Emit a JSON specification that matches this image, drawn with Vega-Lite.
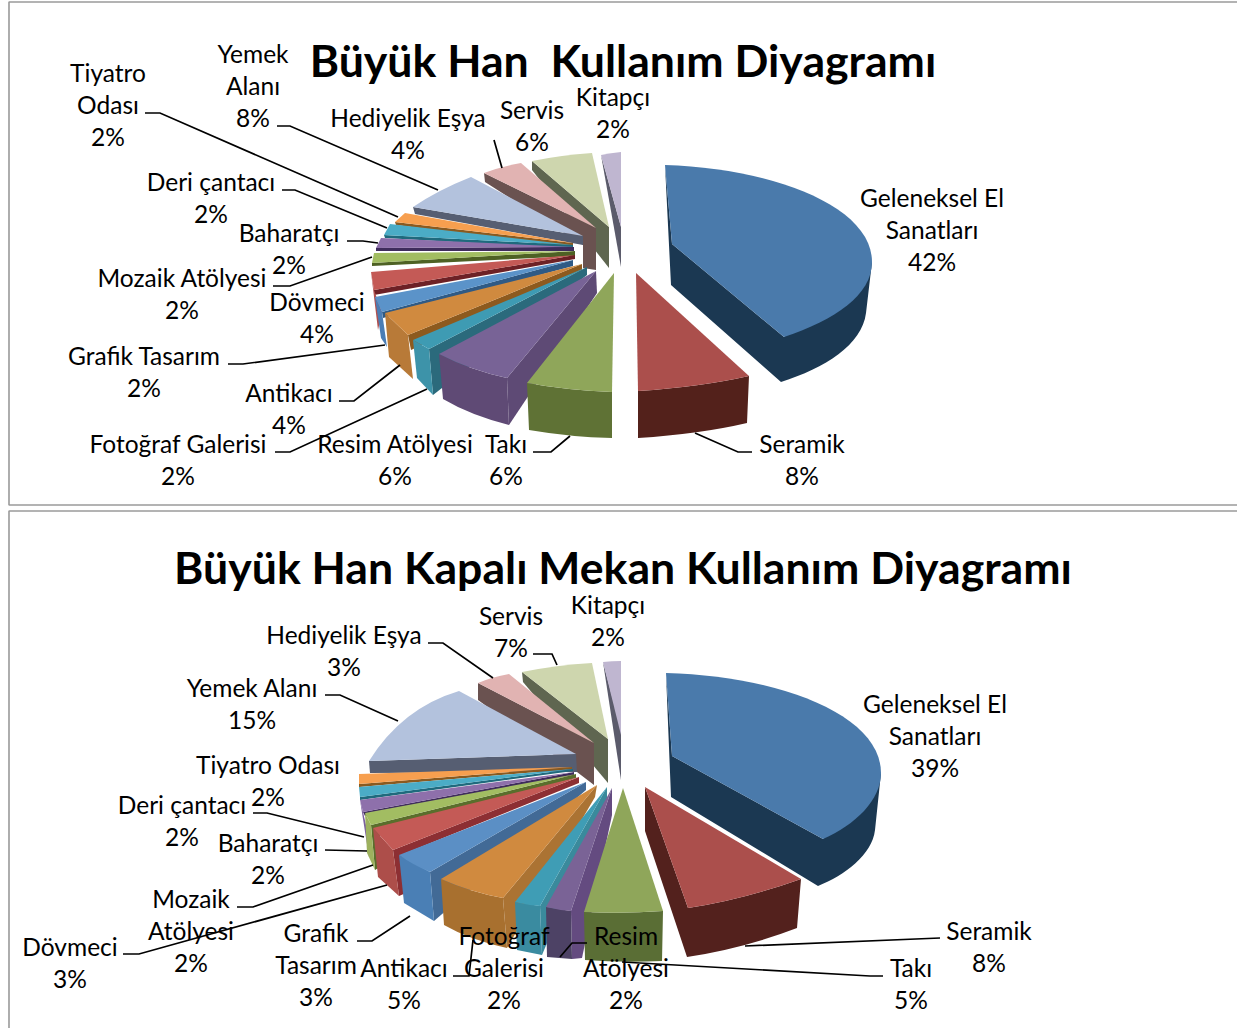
{"$schema":"https://vega.github.io/schema/vega-lite/v6.json","padding":0,"spacing":0,"bounds":"flush","background":"white","config":{"view":{"stroke":null},"title":{"font":"Lato","fontWeight":"bold","color":"#000000","anchor":"middle","baseline":"alphabetic"},"text":{"font":"Lato","fontSize":24.5,"lineBreak":"\n","lineHeight":32,"align":"center","baseline":"middle","color":"#000000"}},
"vconcat":[
{"width":1236,"height":514,"title":{"text":"Büyük Han \u00a0Kullanım Diyagramı","fontSize":44.6,"offset":-87,"dx":5},
"data":{"values":[
{"category":"Kitapçı","pct":2,"label":"Kitapçı\n2%"},{"category":"Servis","pct":6,"label":"Servis\n6%"},{"category":"Hediyelik Eşya","pct":4,"label":"Hediyelik Eşya\n4%"},{"category":"Yemek Alanı","pct":8,"label":"Yemek\nAlanı\n8%"},{"category":"Tiyatro Odası","pct":2,"label":"Tiyatro\nOdası\n2%"},{"category":"Deri çantacı","pct":2,"label":"Deri çantacı\n2%"},{"category":"Baharatçı","pct":2,"label":"Baharatçı\n2%"},{"category":"Mozaik Atölyesi","pct":2,"label":"Mozaik Atölyesi\n2%"},{"category":"Dövmeci","pct":4,"label":"Dövmeci\n4%"},{"category":"Grafik Tasarım","pct":2,"label":"Grafik Tasarım\n2%"},{"category":"Antikacı","pct":4,"label":"Antikacı\n4%"},{"category":"Fotoğraf Galerisi","pct":2,"label":"Fotoğraf Galerisi\n2%"},{"category":"Resim Atölyesi","pct":6,"label":"Resim Atölyesi\n6%"},{"category":"Takı","pct":6,"label":"Takı\n6%"},{"category":"Seramik","pct":8,"label":"Seramik\n8%"},{"category":"Geleneksel El Sanatları","pct":42,"label":"Geleneksel El\nSanatları\n42%"}]},
"resolve":{"scale":{"shape":"independent","color":"independent"}},
"layer":[
{"data":{"values":[{"panel":"frame"}]},"mark":{"type":"point","shape":"M619,-255 L-609,-255 L-609,248 L619,248","size":4,"filled":false,"stroke":"#9a9a9a","strokeWidth":1.6,"strokeJoin":"bevel","opacity":1},"encoding":{}},
{"mark":{"type":"point","filled":true,"size":4,"opacity":1},"encoding":{
"shape":{"field":"category","type":"nominal","legend":null,"scale":{"domain":["Kitapçı","Servis","Hediyelik Eşya","Yemek Alanı","Tiyatro Odası","Deri çantacı","Baharatçı","Mozaik Atölyesi","Dövmeci","Grafik Tasarım","Antikacı","Fotoğraf Galerisi","Resim Atölyesi","Takı","Seramik","Geleneksel El Sanatları"],"range":["M-17,-102 L3,-30 L3,10 Z","M-86,-96 L-86,-87 L-9,11 L-9,-30 Z","M-134,-84 L-133,-75 L-35,-12 L-35,11 L-22,13 L-22,-29 Z","M-205,-50 L-203,-43 L-35,-12 L-35,-21 Z","M-223,-35 L-222,-32 L-45,-9 L-45,-14 Z","M-234,-22 L-233,-19 L-45,-8 L-45,-12 Z","M-242,-9 L-242,-6 L-44,-6 L-44,-10 Z","M-246,6 L-246,9 L-43,-1 L-43,-6 Z","M-244,33 L-244,38 L-43,2 L-43,-2 Z","M-236,55 L-235,61 L-45,9 L-45,3 Z","M-210,78 L-207,93 L-36,13 L-36,7 Z","M-189,92 L-185,138 L-31,18 L-31,10 Z","M-111,121 L-22,14 L-21,36 L-109,168 Z","M-91,126 Q-53,133 -6,135 L-6,181 Q-48,180 -89,173 Z","M20,134 Q82,130 131,119 L129,166 Q82,177 20,181 Z","M47,-92 L53,28 L163,125 C207,111 244,88 248,56 L254,5 L166,80 L54,-13 Z"]}},
"color":{"field":"category","type":"nominal","legend":null,"scale":{"domain":["Kitapçı","Servis","Hediyelik Eşya","Yemek Alanı","Tiyatro Odası","Deri çantacı","Baharatçı","Mozaik Atölyesi","Dövmeci","Grafik Tasarım","Antikacı","Fotoğraf Galerisi","Resim Atölyesi","Takı","Seramik","Geleneksel El Sanatları"],"range":["#5b5b6b","#5f6650","#6a5250","#565e72","#8a5a20","#1f6a7d","#3f2c5c","#4e6124","#6d2126","#2f5a85","#8d5a1e","#2b6a7c","#5e4a75","#5f7235","#53211b","#1b3852"]}}}},
{"transform":[{"filter":{"field":"category","oneOf":["Dövmeci","Grafik Tasarım","Antikacı","Fotoğraf Galerisi","Resim Atölyesi"]}}],"mark":{"type":"point","filled":true,"size":4,"opacity":1},"encoding":{
"shape":{"field":"category","type":"nominal","legend":null,"scale":{"domain":["Dövmeci","Grafik Tasarım","Antikacı","Fotoğraf Galerisi","Resim Atölyesi"],"range":["M-247,15 L-240,73 L-236,55 L-244,33 Z","M-243,40 L-237,81 L-231,90 L-236,55 Z","M-233,56 L-229,100 L-205,122 L-210,78 Z","M-205,83 L-201,121 L-185,138 L-189,92 Z","M-179,97 Q-148,113 -111,121 L-109,168 Q-148,158 -175,142 Z"]}},
"color":{"field":"category","type":"nominal","legend":null,"scale":{"domain":["Dövmeci","Grafik Tasarım","Antikacı","Fotoğraf Galerisi","Resim Atölyesi"],"range":["#b0504f","#4a7db5","#b87a38","#3d93a9","#5f4a75"]}}}},
{"mark":{"type":"point","filled":true,"size":4,"opacity":1},"encoding":{
"shape":{"field":"category","type":"nominal","legend":null,"scale":{"domain":["Kitapçı","Servis","Hediyelik Eşya","Yemek Alanı","Tiyatro Odası","Deri çantacı","Baharatçı","Mozaik Atölyesi","Dövmeci","Grafik Tasarım","Antikacı","Fotoğraf Galerisi","Resim Atölyesi","Takı","Seramik","Geleneksel El Sanatları"],"range":["M3,-30 L-17,-102 Q-7,-104 3,-105 Z","M-9,-30 L-86,-96 Q-56,-102 -26,-104 Z","M-22,-29 L-97,-94 Q-118,-90 -134,-84 Z","M-35,-21 L-147,-80 Q-180,-67 -205,-50 Z","M-45,-14 L-213,-44 L-223,-35 Z","M-45,-12 L-228,-33 L-234,-22 Z","M-44,-10 L-237,-19 L-242,-9 Z","M-43,-6 L-244,-4 L-246,6 Z","M-43,-2 L-247,15 L-244,33 Z","M-45,3 L-243,40 L-236,55 Z","M-36,7 L-233,56 L-210,78 Z","M-31,10 L-205,83 L-189,92 Z","M-22,14 L-179,97 Q-148,113 -111,121 Z","M-4,16 L-91,126 Q-53,133 -6,135 Z","M18,16 L131,119 Q82,130 20,134 Z","M54,-13 L47,-92 C152,-89 254,-52 254,5 C254,38 217,63 166,80 Z"]}},
"color":{"field":"category","type":"nominal","legend":null,"scale":{"domain":["Kitapçı","Servis","Hediyelik Eşya","Yemek Alanı","Tiyatro Odası","Deri çantacı","Baharatçı","Mozaik Atölyesi","Dövmeci","Grafik Tasarım","Antikacı","Fotoğraf Galerisi","Resim Atölyesi","Takı","Seramik","Geleneksel El Sanatları"],"range":["#bfb6d0","#ced6ae","#e1b3b2","#b3c2dd","#f79f4f","#4bacc6","#8e70ab","#a2bd62","#c45a56","#5b93c9","#d08a3f","#3e9bb3","#786396","#8fa65a","#ab4f4c","#4a7aab"]}}}},
{"data":{"values":[{"panel":"leaders"}]},"mark":{"type":"point","shape":"M77,176 L120,195 L134,195 M-85,195 L-67,195 L-48,179 M-343,195 L-328,195 L-191,132 M-279,144 L-264,144 L-218,108 M-390,107 L-375,107 L-233,88 M-345,29 L-328,29 L-246,0 M-271,-16 L-255,-16 L-240,-14 M-336,-67 L-323,-67 L-231,-29 M-473,-144 L-458,-144 L-220,-40 M-341,-131 L-328,-131 L-180,-67 M-124,-117 L-116,-89","size":4,"filled":false,"stroke":"#000000","strokeWidth":1.7,"opacity":1},"encoding":{}},
{"transform":[{"filter":{"field":"category","equal":"Kitapçı"}}],"mark":{"type":"text","dx":-5,"dy":-158},"encoding":{"text":{"field":"label"}}},
{"transform":[{"filter":{"field":"category","equal":"Servis"}}],"mark":{"type":"text","dx":-86,"dy":-145},"encoding":{"text":{"field":"label"}}},
{"transform":[{"filter":{"field":"category","equal":"Hediyelik Eşya"}}],"mark":{"type":"text","dx":-210,"dy":-137},"encoding":{"text":{"field":"label"}}},
{"transform":[{"filter":{"field":"category","equal":"Yemek Alanı"}}],"mark":{"type":"text","dx":-365,"dy":-201},"encoding":{"text":{"field":"label"}}},
{"transform":[{"filter":{"field":"category","equal":"Tiyatro Odası"}}],"mark":{"type":"text","dx":-510,"dy":-182},"encoding":{"text":{"field":"label"}}},
{"transform":[{"filter":{"field":"category","equal":"Deri çantacı"}}],"mark":{"type":"text","dx":-407,"dy":-73},"encoding":{"text":{"field":"label"}}},
{"transform":[{"filter":{"field":"category","equal":"Baharatçı"}}],"mark":{"type":"text","dx":-329,"dy":-22},"encoding":{"text":{"field":"label"}}},
{"transform":[{"filter":{"field":"category","equal":"Mozaik Atölyesi"}}],"mark":{"type":"text","dx":-436,"dy":23},"encoding":{"text":{"field":"label"}}},
{"transform":[{"filter":{"field":"category","equal":"Dövmeci"}}],"mark":{"type":"text","dx":-301,"dy":47},"encoding":{"text":{"field":"label"}}},
{"transform":[{"filter":{"field":"category","equal":"Grafik Tasarım"}}],"mark":{"type":"text","dx":-474,"dy":101},"encoding":{"text":{"field":"label"}}},
{"transform":[{"filter":{"field":"category","equal":"Antikacı"}}],"mark":{"type":"text","dx":-329,"dy":138},"encoding":{"text":{"field":"label"}}},
{"transform":[{"filter":{"field":"category","equal":"Fotoğraf Galerisi"}}],"mark":{"type":"text","dx":-440,"dy":189},"encoding":{"text":{"field":"label"}}},
{"transform":[{"filter":{"field":"category","equal":"Resim Atölyesi"}}],"mark":{"type":"text","dx":-223,"dy":189},"encoding":{"text":{"field":"label"}}},
{"transform":[{"filter":{"field":"category","equal":"Takı"}}],"mark":{"type":"text","dx":-112,"dy":189},"encoding":{"text":{"field":"label"}}},
{"transform":[{"filter":{"field":"category","equal":"Seramik"}}],"mark":{"type":"text","dx":184,"dy":189},"encoding":{"text":{"field":"label"}}},
{"transform":[{"filter":{"field":"category","equal":"Geleneksel El Sanatları"}}],"mark":{"type":"text","dx":314,"dy":-57},"encoding":{"text":{"field":"label"}}}
]},
{"width":1236,"height":514,"title":{"text":"Büyük Han Kapalı Mekan Kullanım Diyagramı","fontSize":44.6,"offset":-83,"dx":5},
"data":{"values":[
{"category":"Kitapçı","pct":2,"label":"Kitapçı\n2%"},{"category":"Servis","pct":7,"label":"Servis\n7%"},{"category":"Hediyelik Eşya","pct":3,"label":"Hediyelik Eşya\n3%"},{"category":"Yemek Alanı","pct":15,"label":"Yemek Alanı\n15%"},{"category":"Tiyatro Odası","pct":2,"label":"Tiyatro Odası\n2%"},{"category":"Deri çantacı","pct":2,"label":"Deri çantacı\n2%"},{"category":"Baharatçı","pct":2,"label":"Baharatçı\n2%"},{"category":"Mozaik Atölyesi","pct":2,"label":"Mozaik\nAtölyesi\n2%"},{"category":"Dövmeci","pct":3,"label":"Dövmeci\n3%"},{"category":"Grafik Tasarım","pct":3,"label":"Grafik\nTasarım\n3%"},{"category":"Antikacı","pct":5,"label":"Antikacı\n5%"},{"category":"Fotoğraf Galerisi","pct":2,"label":"Fotoğraf\nGalerisi\n2%"},{"category":"Resim Atölyesi","pct":2,"label":"Resim\nAtölyesi\n2%"},{"category":"Takı","pct":5,"label":"Takı\n5%"},{"category":"Seramik","pct":8,"label":"Seramik\n8%"},{"category":"Geleneksel El Sanatları","pct":39,"label":"Geleneksel El\nSanatları\n39%"}]},
"resolve":{"scale":{"shape":"independent","color":"independent"}},
"layer":[
{"data":{"values":[{"panel":"frame"}]},"mark":{"type":"point","shape":"M619,-260 L-609,-260 L-609,257","size":4,"filled":false,"stroke":"#9a9a9a","strokeWidth":1.6,"strokeJoin":"bevel","opacity":1},"encoding":{}},
{"mark":{"type":"point","filled":true,"size":4,"opacity":1},"encoding":{
"shape":{"field":"category","type":"nominal","legend":null,"scale":{"domain":["Kitapçı","Servis","Hediyelik Eşya","Yemek Alanı","Tiyatro Odası","Deri çantacı","Baharatçı","Mozaik Atölyesi","Dövmeci","Grafik Tasarım","Antikacı","Fotoğraf Galerisi","Resim Atölyesi","Takı","Seramik","Geleneksel El Sanatları"],"range":["M-15,-109 L3,-41 L3,9 Z","M-96,-99 L-95,-89 L-10,12 L-10,-32 Z","M-140,-88 L-140,-71 L-41,1 L-24,14 L-24,-28 Z","M-249,-10 L-248,2 L-41,1 L-42,-17 Z","M-259,13 L-259,16 L-46,-2 L-46,-4 Z","M-258,26 L-258,29 L-45,0 L-45,-2 Z","M-255,41 L-253,45 L-44,4 L-44,1 Z","M-247,54 L-243,99 L-238,96 L-238,60 L-42,7 L-42,3 Z","M-225,79 L-219,125 L-212,122 L-212,82 L-39,12 L-39,6 Z","M-188,101 L-184,150 L-32,19 L-32,11 Z","M-115,127 L-111,177 L-23,26 L-21,14 Z","M-78,135 L-76,184 L-11,29 L-11,16 Z","M-47,140 L-46,188 L-36,187 L-6,44 L-6,17 Z","M-34,141 Q5,143 45,140 L44,190 Q5,192 -33,189 Z","M27,16 L70,137 Q124,129 183,108 L179,157 Q127,177 69,186 L27,60 Z","M48,-98 L53,26 L200,115 C227,104 254,84 257,59 L263,2 L205,68 L54,-15 Z"]}},
"color":{"field":"category","type":"nominal","legend":null,"scale":{"domain":["Kitapçı","Servis","Hediyelik Eşya","Yemek Alanı","Tiyatro Odası","Deri çantacı","Baharatçı","Mozaik Atölyesi","Dövmeci","Grafik Tasarım","Antikacı","Fotoğraf Galerisi","Resim Atölyesi","Takı","Seramik","Geleneksel El Sanatları"],"range":["#5b5b6b","#5f6650","#6a5250","#565e72","#8a5a20","#1f6a7d","#3f2c5c","#5a6e2c","#8d2f33","#426a96","#ab7333","#3a8a9c","#644b80","#5a6e35","#53211d","#1b3852"]}}}},
{"transform":[{"filter":{"field":"category","oneOf":["Baharatçı","Mozaik Atölyesi","Dövmeci","Grafik Tasarım","Antikacı","Fotoğraf Galerisi","Resim Atölyesi"]}}],"mark":{"type":"point","filled":true,"size":4,"opacity":1},"encoding":{
"shape":{"field":"category","type":"nominal","legend":null,"scale":{"domain":["Baharatçı","Mozaik Atölyesi","Dövmeci","Grafik Tasarım","Antikacı","Fotoğraf Galerisi","Resim Atölyesi"],"range":["M-258,29 L-249,86 L-246,80 L-255,41 Z","M-253,42 L-251,82 L-243,99 L-247,54 Z","M-245,57 L-240,106 L-219,125 L-225,79 Z","M-219,84 L-214,132 L-184,150 L-188,101 Z","M-177,108 Q-148,121 -115,127 L-111,177 Q-148,169 -174,154 Z","M-103,131 L-101,179 L-76,184 L-78,135 Z","M-72,136 L-71,186 L-46,188 L-47,140 Z"]}},
"color":{"field":"category","type":"nominal","legend":null,"scale":{"domain":["Baharatçı","Mozaik Atölyesi","Dövmeci","Grafik Tasarım","Antikacı","Fotoğraf Galerisi","Resim Atölyesi"],"range":["#7b5ea0","#9db15e","#ad4e4a","#4a7fb5","#a8702f","#3a8ba0","#4d4265"]}}}},
{"mark":{"type":"point","filled":true,"size":4,"opacity":1},"encoding":{
"shape":{"field":"category","type":"nominal","legend":null,"scale":{"domain":["Kitapçı","Servis","Hediyelik Eşya","Yemek Alanı","Tiyatro Odası","Deri çantacı","Baharatçı","Mozaik Atölyesi","Dövmeci","Grafik Tasarım","Antikacı","Fotoğraf Galerisi","Resim Atölyesi","Takı","Seramik","Geleneksel El Sanatları"],"range":["M3,-36 L-15,-109 Q-6,-110 3,-110 Z","M-10,-32 L-96,-99 Q-61,-106 -26,-108 Z","M-24,-28 L-109,-97 Q-126,-94 -140,-88 Z","M-42,-17 L-159,-80 Q-216,-63 -249,-10 Z","M-46,-4 L-259,3 L-259,13 Z","M-45,-2 L-259,16 L-258,26 Z","M-44,1 L-258,29 L-255,41 Z","M-42,3 L-253,42 L-247,54 Z","M-39,6 L-245,57 L-225,79 Z","M-32,11 L-219,84 Q-205,94 -188,101 Z","M-21,14 L-177,108 Q-148,121 -115,127 Z","M-11,16 L-103,131 Q-91,134 -78,135 Z","M-6,17 L-72,136 Q-60,139 -47,140 Z","M5,17 L-34,141 Q5,143 45,140 Z","M27,16 L183,108 Q124,129 70,137 Z","M54,-15 L48,-98 C162,-95 263,-56 263,2 C263,29 237,54 205,68 Z"]}},
"color":{"field":"category","type":"nominal","legend":null,"scale":{"domain":["Kitapçı","Servis","Hediyelik Eşya","Yemek Alanı","Tiyatro Odası","Deri çantacı","Baharatçı","Mozaik Atölyesi","Dövmeci","Grafik Tasarım","Antikacı","Fotoğraf Galerisi","Resim Atölyesi","Takı","Seramik","Geleneksel El Sanatları"],"range":["#bfb6d0","#ced6ae","#e1b3b2","#b3c2dd","#f79f4f","#4bacc6","#8e70ab","#a2bd62","#c45a56","#5b8fc5","#d08a3f","#3f9db5","#7a6396","#8fa65a","#ab4f4c","#4a7aab"]}}}},
{"data":{"values":[{"panel":"leaders"}]},"mark":{"type":"point","shape":"M322,167 L127,175 M265,205 L252,205 L4,191 M-31,172 L-46,172 L-58,186 M-165,205 L-149,205 L-145,169 M-261,170 L-246,170 L-208,145 M-495,183 L-479,183 L-231,114 M-381,136 L-365,136 L-245,94 M-293,79 L-251,80 M-365,42 L-351,42 L-254,66 M-293,-76 L-278,-76 L-220,-50 M-190,-128 L-175,-128 L-125,-93 M-85,-117 L-66,-117 L-61,-106","size":4,"filled":false,"stroke":"#000000","strokeWidth":1.7,"opacity":1},"encoding":{}},
{"transform":[{"filter":{"field":"category","equal":"Kitapçı"}}],"mark":{"type":"text","dx":-10,"dy":-164},"encoding":{"text":{"field":"label"}}},
{"transform":[{"filter":{"field":"category","equal":"Servis"}}],"mark":{"type":"text","dx":-107,"dy":-153},"encoding":{"text":{"field":"label"}}},
{"transform":[{"filter":{"field":"category","equal":"Hediyelik Eşya"}}],"mark":{"type":"text","dx":-274,"dy":-134},"encoding":{"text":{"field":"label"}}},
{"transform":[{"filter":{"field":"category","equal":"Yemek Alanı"}}],"mark":{"type":"text","dx":-366,"dy":-81},"encoding":{"text":{"field":"label"}}},
{"transform":[{"filter":{"field":"category","equal":"Tiyatro Odası"}}],"mark":{"type":"text","dx":-350,"dy":-4},"encoding":{"text":{"field":"label"}}},
{"transform":[{"filter":{"field":"category","equal":"Deri çantacı"}}],"mark":{"type":"text","dx":-436,"dy":36},"encoding":{"text":{"field":"label"}}},
{"transform":[{"filter":{"field":"category","equal":"Baharatçı"}}],"mark":{"type":"text","dx":-350,"dy":74},"encoding":{"text":{"field":"label"}}},
{"transform":[{"filter":{"field":"category","equal":"Mozaik Atölyesi"}}],"mark":{"type":"text","dx":-427,"dy":130},"encoding":{"text":{"field":"label"}}},
{"transform":[{"filter":{"field":"category","equal":"Dövmeci"}}],"mark":{"type":"text","dx":-548,"dy":178},"encoding":{"text":{"field":"label"}}},
{"transform":[{"filter":{"field":"category","equal":"Grafik Tasarım"}}],"mark":{"type":"text","dx":-302,"dy":164},"encoding":{"text":{"field":"label"}}},
{"transform":[{"filter":{"field":"category","equal":"Antikacı"}}],"mark":{"type":"text","dx":-214,"dy":199},"encoding":{"text":{"field":"label"}}},
{"transform":[{"filter":{"field":"category","equal":"Fotoğraf Galerisi"}}],"mark":{"type":"text","dx":-114,"dy":167},"encoding":{"text":{"field":"label"}}},
{"transform":[{"filter":{"field":"category","equal":"Resim Atölyesi"}}],"mark":{"type":"text","dx":8,"dy":167},"encoding":{"text":{"field":"label"}}},
{"transform":[{"filter":{"field":"category","equal":"Takı"}}],"mark":{"type":"text","dx":293,"dy":199},"encoding":{"text":{"field":"label"}}},
{"transform":[{"filter":{"field":"category","equal":"Seramik"}}],"mark":{"type":"text","dx":371,"dy":162},"encoding":{"text":{"field":"label"}}},
{"transform":[{"filter":{"field":"category","equal":"Geleneksel El Sanatları"}}],"mark":{"type":"text","dx":317,"dy":-65},"encoding":{"text":{"field":"label"}}}
]}
]}
